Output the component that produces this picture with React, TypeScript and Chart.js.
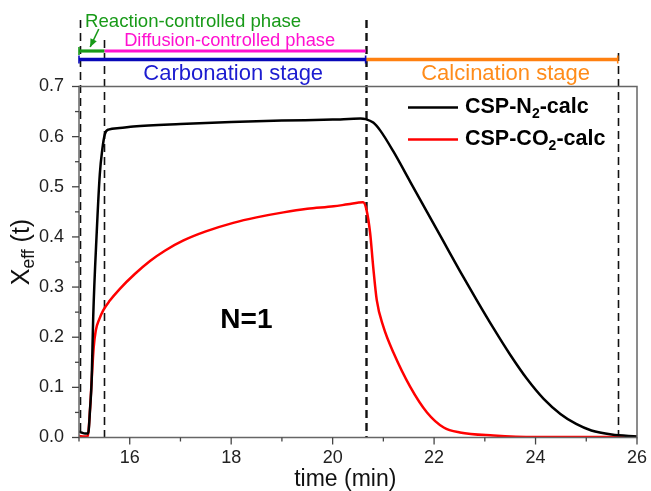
import React, { useEffect, useRef } from "react";
import { Chart, registerables } from "chart.js";

Chart.register(...registerables);

// ---- data ----
const n2Time = [15.0, 15.05, 15.12, 15.18, 15.22, 15.25, 15.28, 15.35, 15.41, 15.46, 15.51, 15.58, 15.8, 16.07, 17.0, 18.0, 19.0, 20.0, 20.55, 20.65, 20.8, 20.94, 21.2, 21.53, 21.86, 22.19, 22.51, 22.84, 23.17, 23.5, 23.83, 24.16, 24.49, 24.8, 25.1, 25.5, 26.0];
const n2Values = [0.012, 0.01, 0.008, 0.008, 0.06, 0.115, 0.24, 0.41, 0.525, 0.575, 0.605, 0.614, 0.617, 0.62, 0.625, 0.629, 0.632, 0.634, 0.636, 0.635, 0.628, 0.612, 0.57, 0.51, 0.45, 0.39, 0.332, 0.274, 0.218, 0.165, 0.117, 0.077, 0.047, 0.027, 0.014, 0.006, 0.002];

const co2Time = [15.0, 15.1, 15.17, 15.22, 15.25, 15.29, 15.33, 15.4, 15.48, 15.6, 15.81, 16.1, 16.4, 16.7, 17.06, 17.5, 18.04, 18.5, 19.03, 19.5, 20.02, 20.3, 20.6, 20.67, 20.74, 20.8, 20.87, 21.0, 21.2, 21.53, 21.86, 22.19, 22.51, 23.17, 24.0, 26.0];
const co2Values = [0.003, 0.002, 0.002, 0.06, 0.115, 0.18, 0.213, 0.236, 0.254, 0.272, 0.297, 0.326, 0.352, 0.373, 0.393, 0.411, 0.428, 0.439, 0.449, 0.456, 0.461, 0.465, 0.469, 0.453, 0.407, 0.34, 0.274, 0.221, 0.169, 0.101, 0.05, 0.02, 0.01, 0.004, 0.001, 0.001];

const seriesLabels = ["CSP-N_{2}-calc", "CSP-CO_{2}-calc"];
const seriesColors = ["#000000", "#ff0000"];

const xTickLabels = ["16", "18", "20", "22", "24", "26"];
const xMin = 15;
const xMax = 26;
const yMin = 0;
const yMax = 0.7;

// phase boundaries (min)
const markerTimes = [15.02, 15.5, 20.65, 25.62];
const reactionPhase = [15.0, 15.5];
const diffusionPhase = [15.5, 20.65];
const carbonationStage = [15.0, 20.65];
const calcinationStage = [20.65, 25.62];

const FAMILY = '"Liberation Sans", Arial, Helvetica, sans-serif';

type Seg = { t: string; sub: boolean };
function parseRich(s: string): Seg[] {
  const out: Seg[] = [];
  const re = /_\{([^}]*)\}/g;
  let last = 0;
  let m: RegExpExecArray | null;
  while ((m = re.exec(s))) {
    if (m.index > last) out.push({ t: s.slice(last, m.index), sub: false });
    out.push({ t: m[1], sub: true });
    last = m.index + m[0].length;
  }
  if (last < s.length) out.push({ t: s.slice(last), sub: false });
  return out;
}

function drawRich(
  ctx: CanvasRenderingContext2D,
  str: string,
  x: number,
  y: number,
  size: number,
  weight: string,
  color: string,
  align: "left" | "center",
  subScale = 0.68
) {
  const segs = parseRich(str);
  const subSize = size * subScale;
  const widths = segs.map((s) => {
    ctx.font = `${weight} ${s.sub ? subSize : size}px ${FAMILY}`;
    return ctx.measureText(s.t).width;
  });
  const total = widths.reduce((a, b) => a + b, 0);
  let cx = align === "center" ? x - total / 2 : x;
  ctx.textAlign = "left";
  ctx.textBaseline = "middle";
  ctx.fillStyle = color;
  segs.forEach((s, i) => {
    ctx.font = `${weight} ${s.sub ? subSize : size}px ${FAMILY}`;
    ctx.fillText(s.t, cx, s.sub ? y + size * 0.3 : y);
    cx += widths[i];
  });
}

const decor = {
  id: "decor",
  beforeDatasetsDraw(chart: any) {
    const { ctx, chartArea, scales } = chart;
    const xs = scales.x;
    const tops = [20, 40, 20, 53];
    const widths = [1.6, 1.6, 2.4, 1.6];
    ctx.save();
    ctx.strokeStyle = "#111";
    ctx.setLineDash([8, 5]);
    markerTimes.forEach((t, i) => {
      const px = Math.round(xs.getPixelForValue(t)) + 0.5;
      ctx.lineWidth = widths[i];
      ctx.beginPath();
      ctx.moveTo(px, tops[i]);
      ctx.lineTo(px, chartArea.bottom);
      ctx.stroke();
    });
    ctx.restore();
  },
  afterDatasetsDraw(chart: any) {
    const { ctx, chartArea, scales } = chart;
    const xs = scales.x;
    const ys = scales.y;
    const L = chartArea.left, R = chartArea.right, T = chartArea.top, B = chartArea.bottom;
    ctx.save();

    // frame
    ctx.strokeStyle = "#666";
    ctx.lineWidth = 1.5;
    ctx.setLineDash([]);
    ctx.strokeRect(L, T, R - L, B - T);

    // ticks
    ctx.strokeStyle = "#444";
    ctx.lineWidth = 1.3;
    for (let v = xMin; v <= xMax + 1e-9; v += 1) {
      const px = xs.getPixelForValue(v);
      const major = xTickLabels.includes(String(Math.round(v)));
      ctx.beginPath();
      ctx.moveTo(px, B);
      ctx.lineTo(px, B + (major ? 7 : 4));
      ctx.stroke();
    }
    for (let i = 0; i <= 14; i++) {
      const v = yMin + i * 0.05;
      const py = ys.getPixelForValue(v);
      const major = i % 2 === 0;
      ctx.beginPath();
      ctx.moveTo(L, py);
      ctx.lineTo(L - (major ? 7 : 4), py);
      ctx.stroke();
    }

    // axis titles
    drawRich(ctx, "time (min)", xs.getPixelForValue(20.25), 480, 23, "normal", "#111", "center");
    ctx.save();
    ctx.translate(22, 252);
    ctx.rotate(-Math.PI / 2);
    drawRich(ctx, "X_{eff} (t)", 0, 0, 25, "normal", "#111", "center", 0.7);
    ctx.restore();

    // legend
    chart.data.datasets.forEach((ds: any, i: number) => {
      const ly = T + 21 + i * 32;
      const lx = R - 229;
      ctx.strokeStyle = ds.borderColor;
      ctx.lineWidth = 2.5;
      ctx.beginPath();
      ctx.moveTo(lx, ly);
      ctx.lineTo(lx + 50, ly);
      ctx.stroke();
      drawRich(ctx, ds.label, lx + 57, ly, 21.5, "bold", "#000", "left", 0.65);
    });

    // N=1
    drawRich(ctx, "N=1", xs.getPixelForValue(18.3), 320, 28, "bold", "#000", "center");

    // phase bars
    const bar = (a: number, b: number, y: number, color: string, w: number, caps: boolean[]) => {
      const x0 = xs.getPixelForValue(a);
      const x1 = xs.getPixelForValue(b);
      ctx.strokeStyle = color;
      ctx.lineWidth = w;
      ctx.lineCap = "butt";
      ctx.beginPath();
      ctx.moveTo(x0, y);
      ctx.lineTo(x1, y);
      ctx.stroke();
      ctx.lineWidth = 1.6;
      [x0, x1].forEach((x, k) => {
        if (!caps[k]) return;
        ctx.beginPath();
        ctx.moveTo(x, y - 4);
        ctx.lineTo(x, y + 4);
        ctx.stroke();
      });
    };
    bar(diffusionPhase[0], diffusionPhase[1], 51, "#ff10d0", 3.2, [false, false]);
    bar(reactionPhase[0], reactionPhase[1], 51, "#189a18", 3.2, [true, false]);
    bar(calcinationStage[0], calcinationStage[1], 59.5, "#ff8010", 3.4, [false, true]);
    bar(carbonationStage[0], carbonationStage[1], 59.5, "#0808b8", 3.6, [true, true]);

    // phase texts
    drawRich(ctx, "Reaction-controlled phase", xs.getPixelForValue(15.12), 22, 18.6, "normal", "#189a18", "left");
    drawRich(ctx, "Diffusion-controlled phase", xs.getPixelForValue(17.97), 41, 18.3, "normal", "#ff10d0", "center");
    drawRich(ctx, "Carbonation stage", xs.getPixelForValue(18.04), 74, 22, "normal", "#1c1cd0", "center");
    drawRich(ctx, "Calcination stage", xs.getPixelForValue(23.41), 74, 22, "normal", "#ff8c1a", "center");

    // green arrow
    const ax0 = xs.getPixelForValue(15.39), ay0 = 29;
    const ax1 = xs.getPixelForValue(15.22), ay1 = 47;
    ctx.strokeStyle = "#189a18";
    ctx.fillStyle = "#189a18";
    ctx.lineWidth = 1.6;
    ctx.beginPath();
    ctx.moveTo(ax0, ay0);
    ctx.lineTo(ax1, ay1);
    ctx.stroke();
    const ang = Math.atan2(ay1 - ay0, ax1 - ax0);
    const hl = 8, hw = 3.5;
    ctx.beginPath();
    ctx.moveTo(ax1, ay1);
    ctx.lineTo(ax1 - hl * Math.cos(ang) + hw * Math.sin(ang), ay1 - hl * Math.sin(ang) - hw * Math.cos(ang));
    ctx.lineTo(ax1 - hl * Math.cos(ang) - hw * Math.sin(ang), ay1 - hl * Math.sin(ang) + hw * Math.cos(ang));
    ctx.closePath();
    ctx.fill();

    ctx.restore();
  },
};

export default function App() {
  const ref = useRef<HTMLCanvasElement | null>(null);
  useEffect(() => {
    if (!ref.current) return;
    const chart = new Chart(ref.current, {
      type: "line",
      data: {
        datasets: [
          {
            label: seriesLabels[0],
            data: n2Time.map((t, i) => ({ x: t, y: n2Values[i] })),
            borderColor: seriesColors[0],
            borderWidth: 2.5,
            pointRadius: 0,
            cubicInterpolationMode: "monotone",
            fill: false,
          },
          {
            label: seriesLabels[1],
            data: co2Time.map((t, i) => ({ x: t, y: co2Values[i] })),
            borderColor: seriesColors[1],
            borderWidth: 2.5,
            pointRadius: 0,
            cubicInterpolationMode: "monotone",
            fill: false,
          },
        ],
      },
      options: {
        animation: false,
        responsive: false,
        maintainAspectRatio: false,
        devicePixelRatio: 1,
        layout: { padding: { left: 0, right: 14, top: 86.5, bottom: 0 } },
        plugins: { legend: { display: false }, tooltip: { enabled: false } },
        scales: {
          x: {
            type: "linear",
            min: xMin,
            max: xMax,
            grid: { display: false, drawTicks: false },
            border: { display: false },
            ticks: {
              stepSize: 1,
              autoSkip: false,
              maxRotation: 0,
              padding: 10,
              color: "#222",
              font: { family: FAMILY, size: 18 },
              callback: (v: any) => (xTickLabels.includes(String(v)) ? String(v) : ""),
            },
            afterFit: (s: any) => {
              s.height = 53.5;
              s.paddingLeft = 0;
              s.paddingRight = 0;
            },
          },
          y: {
            type: "linear",
            min: yMin,
            max: yMax,
            grid: { display: false, drawTicks: false },
            border: { display: false },
            ticks: {
              stepSize: 0.1,
              padding: 15,
              color: "#222",
              font: { family: FAMILY, size: 18 },
              callback: (v: any) => Number(v).toFixed(1),
            },
            afterFit: (s: any) => {
              s.width = 79;
              s.paddingTop = 0;
              s.paddingBottom = 0;
            },
          },
        },
      } as any,
      plugins: [decor],
    });
    return () => chart.destroy();
  }, []);
  return (
    <div style={{ position: "absolute", left: 0, top: 0, width: 651, height: 491, background: "#fff" }}>
      <canvas ref={ref} width={651} height={491} style={{ width: 651, height: 491, display: "block" }} />
    </div>
  );
}
